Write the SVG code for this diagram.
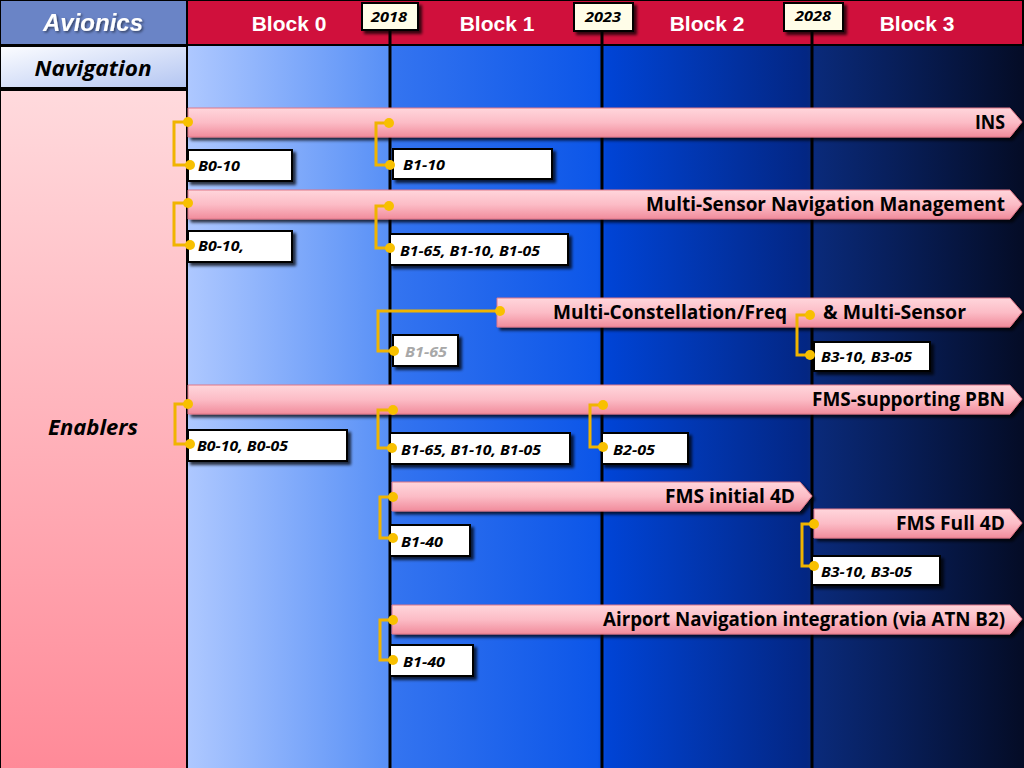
<svg xmlns="http://www.w3.org/2000/svg" width="1024" height="768" viewBox="0 0 1024 768">
<defs>
<linearGradient id="bg" x1="0" y1="0" x2="1" y2="0">
<stop offset="0" stop-color="#aec8ff"/>
<stop offset="0.24" stop-color="#5890f6"/>
<stop offset="0.245" stop-color="#3474f0"/>
<stop offset="0.49" stop-color="#0c56e8"/>
<stop offset="0.5" stop-color="#0044d6"/>
<stop offset="0.74" stop-color="#032683"/>
<stop offset="0.75" stop-color="#0a2a7a"/>
<stop offset="1" stop-color="#040c26"/>
</linearGradient>
<linearGradient id="pinkcol" x1="0" y1="0" x2="0" y2="1">
<stop offset="0" stop-color="#ffdadd"/>
<stop offset="1" stop-color="#ff8a98"/>
</linearGradient>
<linearGradient id="navcell" x1="0" y1="0" x2="1" y2="1">
<stop offset="0" stop-color="#fbfcff"/>
<stop offset="1" stop-color="#b4c6f2"/>
</linearGradient>
<linearGradient id="bar" x1="0" y1="0" x2="0" y2="1">
<stop offset="0" stop-color="#ffd6dc"/>
<stop offset="0.5" stop-color="#fcbcc6"/>
<stop offset="1" stop-color="#f18c9c"/>
</linearGradient>
<filter id="sh" x="-10%" y="-20%" width="130%" height="160%">
<feDropShadow dx="3" dy="3" stdDeviation="1.5" flood-color="#000" flood-opacity="0.75"/>
</filter>
<filter id="tsh" x="-10%" y="-20%" width="130%" height="160%">
<feDropShadow dx="1.5" dy="1.5" stdDeviation="1" flood-color="#000" flood-opacity="0.5"/>
</filter>
</defs>
<style>
.hdr{font-family:"Liberation Sans",Arial,sans-serif;font-weight:bold;fill:#fff;text-anchor:middle}
.yr{font-family:"Open Sans","Liberation Sans",sans-serif;font-weight:bold;font-style:italic;font-size:14px;fill:#000;text-anchor:middle}
.ybox{fill:#fffde8;stroke:#000;stroke-width:2}
.bar{fill:url(#bar);stroke:#e07888;stroke-width:1}
.bt{font-family:"Open Sans","Liberation Sans",sans-serif;font-weight:bold;font-size:19px;fill:#000;text-anchor:end}
.lb{fill:#fff;stroke:#000;stroke-width:2}
.lt{font-family:"Open Sans","Liberation Sans",sans-serif;font-weight:bold;font-style:italic;font-size:15px;fill:#000}
.con{fill:none;stroke:#f0b400;stroke-width:3}
.dot{fill:#f8c000}
.vl{stroke:#000;stroke-width:3}
.side{font-family:"Open Sans","Liberation Sans",sans-serif;font-weight:bold;font-style:italic;font-size:22px;fill:#000;text-anchor:middle}
</style>
<rect width="1024" height="768" fill="#000"/>
<rect x="188" y="46" width="836" height="722" fill="url(#bg)"/>
<g id="header">
<rect x="1" y="1" width="185" height="43" fill="#6a84c6"/>
<rect x="188" y="1" width="834" height="43" fill="#d0103c"/>
<text class="hdr" x="93" y="31" font-size="24" font-style="italic" filter="url(#tsh)">Avionics</text>
<text class="hdr" x="289" y="31" font-size="21">Block 0</text>
<text class="hdr" x="497" y="31" font-size="21">Block 1</text>
<text class="hdr" x="707" y="31" font-size="21">Block 2</text>
<text class="hdr" x="917" y="31" font-size="21">Block 3</text>
</g>
<g id="row-navigation">
<rect x="1" y="47" width="185" height="40" fill="url(#navcell)"/>
<text class="side" x="93" y="76" textLength="117" lengthAdjust="spacingAndGlyphs">Navigation</text>
</g>
<g id="row-enablers">
<rect x="1" y="91" width="185" height="677" fill="url(#pinkcol)"/>
<text class="side" x="93" y="435" textLength="90" lengthAdjust="spacingAndGlyphs">Enablers</text>
</g>
<g id="gridlines">
<line class="vl" x1="390" y1="30" x2="390" y2="768"/>
<line class="vl" x1="602" y1="30" x2="602" y2="768"/>
<line class="vl" x1="812" y1="30" x2="812" y2="768"/>
</g>
<g id="years">
<g id="y2018"><rect class="ybox" x="362" y="3" width="56" height="27" filter="url(#sh)"/><text class="yr" x="389" y="22" textLength="36" lengthAdjust="spacingAndGlyphs">2018</text></g>
<g id="y2023"><rect class="ybox" x="574" y="3" width="59" height="28" filter="url(#sh)"/><text class="yr" x="603" y="22" textLength="36" lengthAdjust="spacingAndGlyphs">2023</text></g>
<g id="y2028"><rect class="ybox" x="784" y="3" width="59" height="28" filter="url(#sh)"/><text class="yr" x="813" y="21" textLength="36" lengthAdjust="spacingAndGlyphs">2028</text></g>
</g>
<g id="bar-ins"><path class="bar" filter="url(#sh)" d="M188,108 H1010 L1022,122 L1010,137 H188 Z"/><text class="bt" x="1005" y="129" textLength="30" lengthAdjust="spacingAndGlyphs">INS</text></g>
<g id="bar-msnm"><path class="bar" filter="url(#sh)" d="M188,190 H1010 L1022,204 L1010,219 H188 Z"/><text class="bt" x="1005" y="211" textLength="359" lengthAdjust="spacingAndGlyphs">Multi-Sensor Navigation Management</text></g>
<g id="bar-mcf"><path class="bar" filter="url(#sh)" d="M497,298 H1010 L1022,312 L1010,327 H497 Z"/><text class="bt" x="787" y="319" textLength="234" lengthAdjust="spacingAndGlyphs">Multi-Constellation/Freq</text><text class="bt" x="966" y="319" textLength="143" lengthAdjust="spacingAndGlyphs">&amp; Multi-Sensor</text></g>
<g id="bar-pbn"><path class="bar" filter="url(#sh)" d="M188,385 H1010 L1022,399 L1010,414 H188 Z"/><text class="bt" x="1005" y="406" textLength="193" lengthAdjust="spacingAndGlyphs">FMS-supporting PBN</text></g>
<g id="bar-fms4d"><path class="bar" filter="url(#sh)" d="M392,482 H800 L812,496 L800,511 H392 Z"/><text class="bt" x="795" y="503" textLength="130" lengthAdjust="spacingAndGlyphs">FMS initial 4D</text></g>
<g id="bar-fmsfull"><path class="bar" filter="url(#sh)" d="M814,509 H1010 L1022,523 L1010,538 H814 Z"/><text class="bt" x="1005" y="530" textLength="109" lengthAdjust="spacingAndGlyphs">FMS Full 4D</text></g>
<g id="bar-airport"><path class="bar" filter="url(#sh)" d="M392,605 H1010 L1022,619 L1010,634 H392 Z"/><text class="bt" x="1005" y="626" textLength="402" lengthAdjust="spacingAndGlyphs">Airport Navigation integration (via ATN B2)</text></g>
<g id="lbl-ins-b0"><rect class="lb" x="188" y="150" width="104" height="31" filter="url(#sh)"/><text class="lt" x="198" y="171" textLength="42" lengthAdjust="spacingAndGlyphs">B0-10</text></g>
<g id="lbl-ins-b1"><rect class="lb" x="393" y="149" width="159" height="30" filter="url(#sh)"/><text class="lt" x="403" y="170" textLength="42" lengthAdjust="spacingAndGlyphs">B1-10</text></g>
<g id="lbl-msnm-b0"><rect class="lb" x="188" y="231" width="104" height="31" filter="url(#sh)"/><text class="lt" x="198" y="251" textLength="46" lengthAdjust="spacingAndGlyphs">B0-10,</text></g>
<g id="lbl-msnm-b1"><rect class="lb" x="390" y="234" width="178" height="31" filter="url(#sh)"/><text class="lt" x="400" y="256" textLength="140" lengthAdjust="spacingAndGlyphs">B1-65, B1-10, B1-05</text></g>
<g id="lbl-mcf-b1"><rect class="lb" x="393" y="335" width="65" height="31" filter="url(#sh)"/><text class="lt" x="405" y="357" style="fill:#a8a8a8" textLength="42" lengthAdjust="spacingAndGlyphs">B1-65</text></g>
<g id="lbl-mcf-b3"><rect class="lb" x="814" y="342" width="116" height="29" filter="url(#sh)"/><text class="lt" x="821" y="362" textLength="91" lengthAdjust="spacingAndGlyphs">B3-10, B3-05</text></g>
<g id="lbl-pbn-b0"><rect class="lb" x="188" y="430" width="159" height="31" filter="url(#sh)"/><text class="lt" x="197" y="451" textLength="91" lengthAdjust="spacingAndGlyphs">B0-10, B0-05</text></g>
<g id="lbl-pbn-b1"><rect class="lb" x="390" y="433" width="180" height="31" filter="url(#sh)"/><text class="lt" x="401" y="455" textLength="140" lengthAdjust="spacingAndGlyphs">B1-65, B1-10, B1-05</text></g>
<g id="lbl-pbn-b2"><rect class="lb" x="602" y="433" width="86" height="31" filter="url(#sh)"/><text class="lt" x="613" y="455" textLength="42" lengthAdjust="spacingAndGlyphs">B2-05</text></g>
<g id="lbl-fms4d-b1"><rect class="lb" x="390" y="525" width="80" height="31" filter="url(#sh)"/><text class="lt" x="401" y="547" textLength="42" lengthAdjust="spacingAndGlyphs">B1-40</text></g>
<g id="lbl-fmsfull-b3"><rect class="lb" x="812" y="556" width="128" height="29" filter="url(#sh)"/><text class="lt" x="821" y="577" textLength="91" lengthAdjust="spacingAndGlyphs">B3-10, B3-05</text></g>
<g id="lbl-airport-b1"><rect class="lb" x="390" y="645" width="83" height="31" filter="url(#sh)"/><text class="lt" x="403" y="667" textLength="42" lengthAdjust="spacingAndGlyphs">B1-40</text></g>
<g id="connectors">
<path class="con" d="M188,122 H174 V165 H190"/>
<path class="con" d="M389,123 H376 V165 H390"/>
<path class="con" d="M188,203 H174 V245 H190"/>
<path class="con" d="M389,206 H376 V248 H390"/>
<path class="con" d="M500,311 H378 V351 H394"/>
<path class="con" d="M810,315 H797 V355 H810"/>
<path class="con" d="M188,404 H175 V444 H190"/>
<path class="con" d="M393,410 H378 V448 H392"/>
<path class="con" d="M603,405 H590 V447 H603"/>
<path class="con" d="M393,497 H380 V538 H393"/>
<path class="con" d="M814,524 H802 V566 H814"/>
<path class="con" d="M393,620 H380 V660 H393"/>
<g class="dots">
<circle class="dot" cx="188" cy="122" r="5"/><circle class="dot" cx="190" cy="165" r="5"/>
<circle class="dot" cx="389" cy="123" r="5"/><circle class="dot" cx="390" cy="165" r="5"/>
<circle class="dot" cx="188" cy="203" r="5"/><circle class="dot" cx="190" cy="245" r="5"/>
<circle class="dot" cx="389" cy="206" r="5"/><circle class="dot" cx="390" cy="248" r="5"/>
<circle class="dot" cx="500" cy="311" r="5"/><circle class="dot" cx="394" cy="351" r="5"/>
<circle class="dot" cx="810" cy="315" r="5"/><circle class="dot" cx="810" cy="355" r="5"/>
<circle class="dot" cx="188" cy="404" r="5"/><circle class="dot" cx="190" cy="444" r="5"/>
<circle class="dot" cx="393" cy="410" r="5"/><circle class="dot" cx="392" cy="448" r="5"/>
<circle class="dot" cx="603" cy="405" r="5"/><circle class="dot" cx="603" cy="447" r="5"/>
<circle class="dot" cx="393" cy="497" r="5"/><circle class="dot" cx="393" cy="538" r="5"/>
<circle class="dot" cx="814" cy="524" r="5"/><circle class="dot" cx="814" cy="566" r="5"/>
<circle class="dot" cx="393" cy="620" r="5"/><circle class="dot" cx="393" cy="660" r="5"/>
</g>
</g>
</svg>
